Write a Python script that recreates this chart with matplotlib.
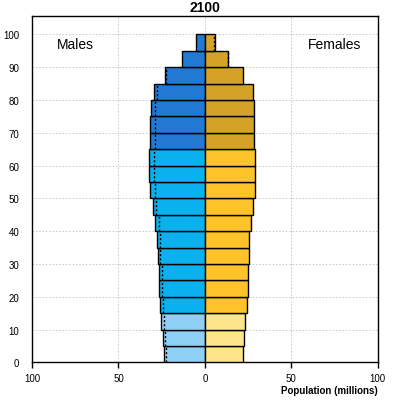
import matplotlib
matplotlib.use('Agg')
import matplotlib.pyplot as plt
import numpy as np

plt.rcParams['font.family'] = ['Liberation Sans', 'DejaVu Sans']

# 5-year age bands, bottom (0-5) to top (95-100), population in millions
age_starts = list(range(0, 100, 5))
males = [23.6, 24.2, 25.2, 26.0, 26.6, 26.7, 26.9, 27.5, 28.7, 29.8,
         32.0, 32.6, 32.4, 31.8, 31.8, 31.0, 29.5, 23.3, 13.3, 5.2]
females = [22.3, 22.9, 23.5, 24.4, 25.0, 25.0, 25.8, 25.8, 26.7, 28.1,
           29.1, 29.3, 29.3, 28.7, 28.7, 28.7, 27.7, 22.3, 13.5, 5.8]
year = '2100'

male_cols = {'young': '#8dcff5', 'work': '#0bb0ee', 'old': '#2279d3'}
female_cols = {'young': '#fde58c', 'work': '#fec22b', 'old': '#d3a227'}


def group(a):
    if a < 15:
        return 'young'
    if a < 65:
        return 'work'
    return 'old'


fig = plt.figure(figsize=(3.96, 4.10), dpi=100)
ax = fig.add_axes([0.0808, 0.1139, 0.873, 0.8439])

y = np.array(age_starts)
m = np.array(males)
f = np.array(females)
mc = [male_cols[group(a)] for a in age_starts]
fc = [female_cols[group(a)] for a in age_starts]

ax.barh(y, -m, height=5, align='edge', color=mc, edgecolor='black', linewidth=1, zorder=3)
ax.barh(y, f, height=5, align='edge', color=fc, edgecolor='black', linewidth=1, zorder=3)

# dotted outline of the other sex where it falls inside the bar
for a, mv, fv in zip(age_starts, males, females):
    if fv < mv:
        ax.plot([-fv, -fv], [a, a + 5], color='black', linestyle=(0, (1.5, 1.5)), linewidth=1, zorder=4)
    elif mv < fv:
        ax.plot([mv, mv], [a, a + 5], color='black', linestyle=(0, (1.5, 1.5)), linewidth=1, zorder=4)

ax.set_xlim(-100, 100)
ax.set_ylim(0, 105.5)
ax.set_xticks([-100, -50, 0, 50, 100])
ax.set_xticklabels(['100', '50', '0', '50', '100'])
ax.set_yticks(range(0, 101, 10))
ax.grid(True, color='#c4c4c4', linestyle=(0, (2, 2)), linewidth=0.6, zorder=0)
ax.tick_params(axis='y', length=0, pad=9, labelsize=7)
ax.tick_params(axis='x', length=4, width=1, pad=4, labelsize=7, direction='out')
for s in ax.spines.values():
    s.set_linewidth(1)

ax.text(-75, 97, 'Males', fontsize=10, ha='center', va='center')
ax.text(75, 97, 'Females', fontsize=10, ha='center', va='center')
ax.set_title(year, fontsize=10, fontweight='bold', pad=4)
ax.set_xlabel('Population (millions)', fontsize=7, fontweight='bold', loc='right', labelpad=1)

fig.savefig('out.png', dpi=100)
